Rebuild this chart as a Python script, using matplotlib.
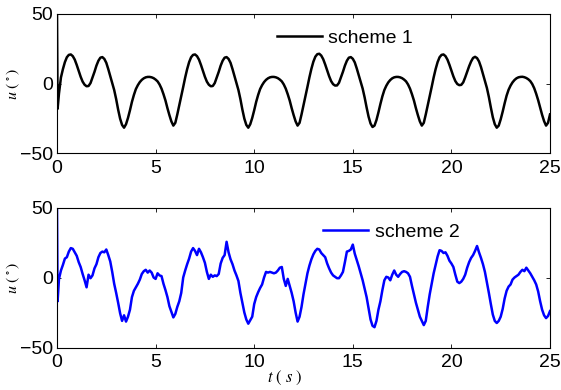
import numpy as np
import matplotlib
matplotlib.use("Agg")
import matplotlib.pyplot as plt

plt.rcParams['font.family'] = ['Liberation Sans', 'DejaVu Sans']
plt.rcParams['mathtext.fontset'] = 'stix'

# ---------------- data ----------------
t_start = [0.0, 0.03]
t_grid = np.round(np.arange(0.1, 25.0001, 0.1), 2)

u_scheme1 = [
    50, -18,
    -7, 4.5, 10.5, 15.5, 19, 20.7, 21, 19.8, 17.3,
    13.5, 9.2, 5.0, 1.5, -0.7, -1.8, -1.6, 0.5, 4.5, 8.5,
    13, 16.5, 18.7, 19.1, 17.8, 15, 10.5, 5.5, 0.5, -4.5,
    -11, -18.5, -25, -29.5, -31.5, -29, -24.5, -19, -13, -8,
    -3.8, -1, 1.2, 2.8, 3.9, 4.6, 4.9, 4.9, 4.6, 4.0,
    3.0, 1.7, -0.5, -3.5, -7.5, -12, -17.5, -22.5, -27, -30,
    -28, -22, -15.5,
    -9, -2.3, 4.5, 10.5, 15.5, 19, 20.7, 21, 19.8, 17.3,
    13.5, 9.2, 5.0, 1.5, -0.7, -1.8, -1.6, 0.5, 4.5, 8.5,
    13, 16.5, 18.7, 19.1, 17.8, 15, 10.5, 5.5, 0.5, -4.5,
    -11, -18.5, -25, -29.5, -31.5, -29, -24.5, -19, -13, -8,
    -3.8, -1, 1.2, 2.8, 3.9, 4.6, 4.9, 4.9, 4.6, 4.0,
    3.0, 1.7, -0.5, -3.5, -7.5, -12, -17.5, -22.5, -27, -30,
    -28, -22, -15.5,
    -9, -2.2, 4.6, 10.7, 15.8, 19.4, 21.2, 21.5, 20.2, 17.6,
    13.8, 9.5, 5.4, 1.9, -0.3, -1.3, -1.2, 0.7, 4.6, 8.6,
    13, 16.5, 18.7, 19.1, 17.9, 15.3, 11, 6.2, 1.3, -3.5,
    -9.8, -17, -23.6, -28.5, -31, -30, -26, -20.5, -14.5, -9,
    -4.5, -1.4, 1.0, 2.7, 3.9, 4.6, 4.9, 4.9, 4.6, 4.0,
    3.0, 1.7, -0.5, -3.5, -7.5, -12, -17.5, -22.5, -27, -30,
    -28, -22, -15.5,
    -9, -2.3, 4.5, 10.5, 15.5, 19, 20.7, 21, 19.8, 17.3,
    13.6, 9.4, 5.3, 1.9, -0.2, -1.0, -0.8, 1.0, 4.6, 8.5,
    12.6, 16, 18.5, 19.3, 18.4, 16, 12, 7, 2, -3,
    -9.5, -17, -24, -29, -31.5, -30, -25.5, -20, -14, -8.5,
    -4.3, -1.3, 1.0, 2.7, 3.9, 4.6, 4.9, 5.0, 4.7, 4.1,
    3.2, 1.9, -0.2, -3.2, -7.2, -11.8, -17.2, -22.3, -26.8, -30,
    -28, -22,
]

u_scheme2 = [
    50, -17,
    -1, 5, 9, 13.5, 14.5, 18.5, 21, 20.5, 18, 15.5,
    11, 7.5, 2.5, -2, -7, 2, -0.5, 1.5, 6.5, 9.5,
    14.5, 17.5, 18.5, 18, 20, 16, 11.5, 4, -4.5, -11,
    -18, -25.5, -31, -27, -31.5, -28, -23, -14, -9.5, -7,
    -4.5, -1.5, 2.5, 4.5, 5.5, 3.5, 5, 3.5, 0, -1,
    3, 1.5, 1, -4.5, -9, -14, -20.5, -24.5, -28.5, -26,
    -21, -17, -11, 0, 5, 9.5, 13.5, 18.5, 21, 19,
    16, 20.5, 18, 14.5, 10.5, 4, -1, 2, 0.5, 1.5,
    1, 2.5, 10, 14, 16, 25.5, 18, 13, 9.5, 5,
    1.5, -2.5, -11, -18, -25, -30, -33, -30.5, -28, -19,
    -14, -10.5, -7.5, -5, 0, 4, 3.5, 4, 3.5, 3,
    3.5, 5, 7, 7.5, -1, -6, -1, -6, -11, -17,
    -25, -31.5, -28, -21, -12, -4.5, 3, 8.5, 13, 16.5,
    19, 20.5, 20, 17.5, 16, 14.5, 10, 6.5, 3.5, 1.5,
    0.5, -0.5, -0.5, 1.5, 4, 11, 18.5, 19, 20, 23.5,
    17, 12.5, 8, 3, -2, -8, -14, -22, -30, -34.5,
    -35.5, -31, -23, -17, -9, -2, 0.5, 0, -2, 2,
    5, 2, 0.5, 2.5, 4, 4.5, 4, 3, 0.5, -6,
    -12, -18, -23, -28, -31, -34, -31, -21, -12, -4.5,
    3, 9, 15, 19.5, 19, 17.5, 18, 15.5, 12, 10,
    7.5, 2, -3, -4, -3, -1, 2, 7, 11, 14,
    16, 19, 22.5, 18, 14, 9.5, 4, -3.5, -11, -19,
    -26.5, -31, -32.5, -31, -28, -22.5, -15, -9.5, -6.5, -5,
    -1.5, 0, 1, 2, 4, 5.5, 4.5, 7, 5, 3,
    0.5, -2, -5, -10, -17, -23, -27, -29, -27.5, -24,
]

t = np.concatenate([t_start, t_grid])
x_ticks = [0, 5, 10, 15, 20, 25]
y_ticks = [-50, 0, 50]
labels = ['scheme 1', 'scheme 2']

# ---------------- figure ----------------
W, H = 561, 390
fig = plt.figure(figsize=(W / 100, H / 100), dpi=100)

def px_rect(l, r, top, bot):
    return [l / W, 1 - bot / H, (r - l) / W, (bot - top) / H]

ax1 = fig.add_axes(px_rect(57, 550, 14, 153.5))
ax2 = fig.add_axes(px_rect(57, 550, 207.5, 347.5))

for ax, u, col, lab, legpos in [
    (ax1, u_scheme1, 'black', labels[0], (0.446, 0.828)),
    (ax2, u_scheme2, '#0000ff', labels[1], (0.540, 0.825)),
]:
    ax.plot(t, u, color=col, lw=1.8, label=lab, solid_joinstyle='round')
    ax.set_xlim(0, 25)
    ax.set_ylim(-50, 50)
    ax.set_xticks(x_ticks)
    ax.set_yticks(y_ticks)
    ax.tick_params(direction='in', length=3, width=0.6, top=True, right=True,
                   labelsize=14, colors='black')
    ax.tick_params(axis='x', pad=5)
    ax.tick_params(axis='y', pad=3)
    for sp in ax.spines.values():
        sp.set_linewidth(0.8)
    ax.legend(loc='center left', bbox_to_anchor=legpos, frameon=False,
              fontsize=14, handlelength=2.3, handletextpad=0.35,
              borderpad=0, borderaxespad=0)
    ax.set_ylabel(r'$u\ (\,^{\circ}\,)$', fontsize=11.5)
    ax.yaxis.set_label_coords(-0.07, 0.5)

fig.text(285 / W, 1 - 378 / H, r'$t\ (\ s\ )$', fontsize=12, ha='center', va='center')

fig.savefig('out.png', dpi=100)
